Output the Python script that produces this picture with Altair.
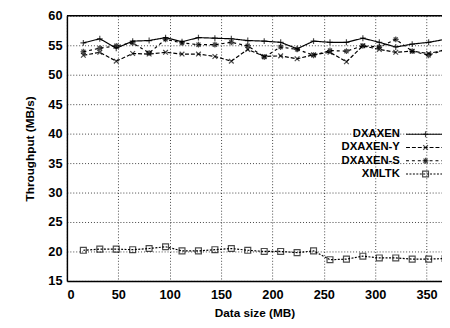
import altair as alt
import pandas as pd

# ---- data ----
sizes = [16, 32, 48, 64, 80, 96, 112, 128, 144, 160, 176, 192,
         208, 224, 240, 256, 272, 288, 304, 320, 336, 352, 368]
dxaxen = [55.4, 56.1, 54.5, 55.7, 55.8, 56.3, 55.6, 56.3, 56.2, 56.1, 55.8, 55.7,
          55.5, 54.4, 55.7, 55.5, 55.5, 56.2, 55.5, 54.7, 55.2, 55.5, 56.0]
dxaxen_y = [53.3, 53.8, 52.3, 53.6, 53.5, 53.8, 53.5, 53.5, 53.1, 52.3, 54.3, 53.1,
            53.2, 52.7, 53.4, 53.8, 52.2, 54.9, 54.3, 53.8, 54.0, 53.6, 54.2]
dxaxen_s = [53.9, 54.5, 54.9, 55.4, 53.7, 56.0, 55.4, 55.1, 55.1, 55.5, 54.9, 53.0,
            54.7, 54.3, 53.3, 54.1, 54.0, 54.9, 54.7, 56.0, 54.0, 53.3, 54.3]
xmltk = [20.2, 20.4, 20.4, 20.3, 20.5, 20.8, 20.1, 20.1, 20.3, 20.5, 20.2, 20.0,
         20.0, 19.8, 20.1, 18.6, 18.7, 19.2, 18.9, 18.9, 18.7, 18.7, 18.8]

series_names = ["DXAXEN", "DXAXEN-Y", "DXAXEN-S", "XMLTK"]
series_values = [dxaxen, dxaxen_y, dxaxen_s, xmltk]

x_ticks = [0, 50, 100, 150, 200, 250, 300, 350]
y_ticks = [15, 20, 25, 30, 35, 40, 45, 50, 55, 60]

# legend placement (data units)
legend_y = [39.9, 37.65, 35.4, 33.15]
legend_text_x = 324
legend_line_x = [330, 365]
legend_mark_x = 349

# ---- styles ----
dashes = [[1, 0], [4, 2], [3, 3], [2, 1.5]]
shapes = [
    "M-1,0L1,0M0,-1L0,1",
    "M-0.8,-0.8L0.8,0.8M-0.8,0.8L0.8,-0.8",
    "M-1,0L1,0M0,-1L0,1M-0.7,-0.7L0.7,0.7M-0.7,0.7L0.7,-0.7M-0.45,-0.45L0.45,-0.45L0.45,0.45L-0.45,0.45Z",
    "square",
]

rows = []
for name, vals in zip(series_names, series_values):
    for s, v in zip(sizes, vals):
        rows.append({"size": s, "tput": v, "series": name})
df = pd.DataFrame(rows)

leg = pd.DataFrame({
    "series": series_names,
    "y": legend_y,
    "tx": [legend_text_x] * 4,
    "x1": [legend_line_x[0]] * 4,
    "x2": [legend_line_x[1]] * 4,
    "mx": [legend_mark_x] * 4,
})

FONT = "Liberation Sans"

xscale = alt.Scale(domain=[0, 365], nice=False, zero=False)
yscale = alt.Scale(domain=[15, 60], nice=False, zero=False)
dash_scale = alt.Scale(domain=series_names, range=dashes)
shape_scale = alt.Scale(domain=series_names, range=shapes)

xaxis = alt.Axis(values=x_ticks, title="Data size (MB)", format="d", labelOverlap=False)
yaxis = alt.Axis(values=y_ticks, title="Throughput (MB/s)", format="d",
                 labelOverlap=False, labelFlush=False)


def X(field):
    return alt.X(field, type="quantitative", scale=xscale, axis=xaxis)


def Y(field):
    return alt.Y(field, type="quantitative", scale=yscale, axis=yaxis)


base = alt.Chart(df)

lines = base.mark_line(color="black", strokeWidth=1.2, clip=True).encode(
    x=X("size"), y=Y("tput"),
    detail="series:N",
    strokeDash=alt.StrokeDash("series:N", scale=dash_scale, legend=None),
)

points = base.mark_point(color="black", filled=False, strokeWidth=1.2, size=36, clip=True).encode(
    x=X("size"), y=Y("tput"),
    shape=alt.Shape("series:N", scale=shape_scale, legend=None),
)

top_border = alt.Chart(pd.DataFrame({"tput": [60]})).mark_rule(
    color="black", strokeWidth=1.5).encode(y=Y("tput"))

lbase = alt.Chart(leg)
leg_text = lbase.mark_text(align="right", baseline="middle", font=FONT,
                           fontWeight="bold", fontSize=11.5, color="black").encode(
    x=X("tx"), y=Y("y"), text="series:N")
leg_line = lbase.mark_rule(color="black", strokeWidth=1.2).encode(
    x=X("x1"), x2="x2:Q", y=Y("y"),
    strokeDash=alt.StrokeDash("series:N", scale=dash_scale, legend=None))
leg_mark = lbase.mark_point(color="black", filled=False, strokeWidth=1.2, size=36).encode(
    x=X("mx"), y=Y("y"),
    shape=alt.Shape("series:N", scale=shape_scale, legend=None))

chart = alt.layer(lines, points, top_border, leg_line, leg_mark, leg_text).properties(
    width=382, height=270,
    autosize=alt.AutoSizeParams(type="none"),
    padding={"left": 60, "top": 5, "right": 0, "bottom": 45},
).configure_view(strokeOpacity=0).configure_axis(
    domainColor="black", domainWidth=1.5,
    gridColor="black", gridDash=[1, 2], gridOpacity=0.75, gridWidth=1,
    ticks=False,
    labelFont=FONT, labelFontWeight="bold", labelFontSize=13, labelColor="black",
    titleFont=FONT, titleFontWeight="bold", titleFontSize=12, titleColor="black",
).configure_axisX(labelPadding=8, titlePadding=6).configure_axisY(
    labelPadding=5, titlePadding=12)

chart.save("out.html", embed_options={"renderer": "svg", "actions": False})
